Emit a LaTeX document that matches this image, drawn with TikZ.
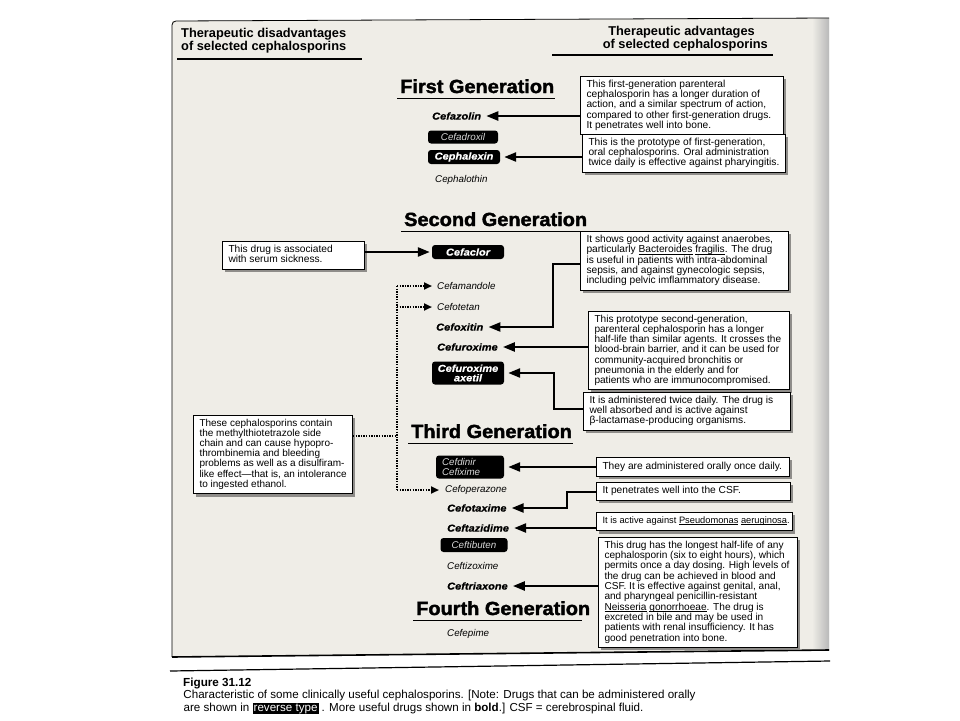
\documentclass[tikz,border=0pt]{standalone}
\usepackage{fontspec}
\setmainfont{Liberation Sans}
\newfontfamily\drugbf{Liberation Sans Bold Italic}[FakeStretch=1.1,FakeBold=0.6]
\newfontfamily\genfont{Liberation Sans Bold}[FakeBold=2,FakeStretch=1.05]
\usetikzlibrary{arrows.meta,shadows,calc}
\definecolor{paper}{HTML}{EFEDE7}
\definecolor{shadowgray}{HTML}{858380}
\newcommand{\boxtxt}[2]{\makebox[#1pt][l]{\begin{tabular}{@{}l@{}}#2\end{tabular}}}
\newcommand{\ulx}[1]{\leavevmode\setbox0\hbox{#1}\rlap{\rule[-1.4pt]{\wd0}{0.55pt}}\box0\relax}
\begin{document}
\begin{tikzpicture}[x=1pt,y=-1pt,
  hdr/.style={inner sep=0pt,font=\bfseries\fontsize{12.8}{13}\selectfont},
  gen/.style={anchor=base west,inner sep=0pt,font=\genfont\fontsize{19}{19}\selectfont},
  uline/.style={line width=1.6pt},
  drug/.style={anchor=west,inner sep=0pt,font=\drugbf\fontsize{10}{10}\selectfont},
  drugit/.style={anchor=west,inner sep=0pt,font=\itshape\fontsize{9.8}{10}\selectfont},
  rev/.style={fill=black,text=white,rounded corners=3pt,inner sep=0pt,align=center},
  revbf/.style={rev,font=\drugbf\fontsize{10}{9.5}\selectfont},
  revit/.style={rev,text=white!85!black,font=\itshape\fontsize{9.8}{9.5}\selectfont},
  info/.style={draw=black,line width=1pt,fill=white,anchor=north west,
    inner xsep=6pt,inner ysep=3.5pt,font=\fontsize{10.2}{9.6}\selectfont,
    drop shadow={shadow xshift=2.8pt,shadow yshift=-2.8pt,fill=shadowgray,opacity=0.9}},
  arr/.style={line width=2.4pt,line join=miter,-{Triangle[length=12pt,width=9pt]}},
  dotl/.style={line width=2.6pt,dash pattern=on 1.3pt off 1.3pt},
  darr/.style={dotl,-{Triangle[length=8pt,width=7pt]}}
]
\useasboundingbox (0,0) rectangle (960,720);
\fill[white] (0,0) rectangle (960,720);
% panel
\fill[paper] (172,21) -- (829,18) -- (829,650) -- (172,657) -- cycle;
\shade[left color=paper,right color=gray!55] (812,18) rectangle (829,650.5);
\draw[line width=0.8pt] (829,18) -- (176,21) to[out=180,in=90] (172,25) -- (172,657);
\draw[line width=1.6pt] (172,657) -- (829,650);

% headers
\node[hdr,anchor=base west] (hl1) at (181,37) {Therapeutic disadvantages};
\node[hdr,anchor=base west] (hl2) at (181,50) {of selected cephalosporins};
\draw[uline] (177,59) -- (362,59);
\node[hdr,anchor=base east] (hr1) at (755,35) {Therapeutic advantages};
\node[hdr,anchor=base east] (hr2) at (768,48) {of selected cephalosporins};
\draw[uline] (552,55) -- (773,55);

% generation titles
\node[gen] (g1) at (400,93) {First Generation};
\node[gen] (g2) at (404,226) {Second Generation};
\node[gen] (g3) at (411,438) {Third Generation};
\node[gen] (g4) at (416,615) {Fourth Generation};
\draw[uline] ([xshift=-3pt,yshift=-5.5pt]g1.base west) -- ([xshift=1pt,yshift=-5.5pt]g1.base east);
\draw[uline] ([xshift=-3pt,yshift=-5.5pt]g2.base west) -- ([xshift=1pt,yshift=-5.5pt]g2.base east);
\draw[uline] ([xshift=-3pt,yshift=-5.5pt]g3.base west) -- ([xshift=1pt,yshift=-5.5pt]g3.base east);
\draw[uline] ([xshift=-3pt,yshift=-5.5pt]g4.base west) -- ([xshift=-8pt,yshift=-5.5pt]g4.base east);

% drugs
\node[drug] (cefazolin) at (432,116) {Cefazolin};
\node[revit,minimum width=70pt,minimum height=13pt] (cefadroxil) at (463,137) {Cefadroxil};
\node[revbf,minimum width=72pt,minimum height=14pt] (cephalexin) at (464,157) {Cephalexin};
\node[drugit] (cephalothin) at (435,180) {Cephalothin};
\node[revbf,minimum width=72pt,minimum height=14pt] (cefaclor) at (468,252) {Cefaclor};
\node[drugit] (cefamandole) at (437,286) {Cefamandole};
\node[drugit] (cefotetan) at (437,307) {Cefotetan};
\node[drug] (cefoxitin) at (436,327) {Cefoxitin};
\node[drug] (cefuroxime) at (437,347) {Cefuroxime};
\node[revbf,minimum width=72pt,minimum height=23pt] (axetil) at (468,373) {Cefuroxime\\axetil};
\node[revit,align=left,minimum width=68pt,minimum height=23pt,text width=56pt] (cefdinir) at (470,467) {Cefdinir\\Cefixime};
\node[drugit] (cefoperazone) at (445,490) {Cefoperazone};
\node[drug] (cefotaxime) at (447,508) {Cefotaxime};
\node[drug] (ceftazidime) at (447,528) {Ceftazidime};
\node[revit,minimum width=67pt,minimum height=14pt] (ceftibuten) at (474,545) {Ceftibuten};
\node[drugit] (ceftizoxime) at (447,566) {Ceftizoxime};
\node[drug] (ceftriaxone) at (447,586) {Ceftriaxone};
\node[drugit] (cefepime) at (447,634) {Cefepime};

% info boxes
\node[info] (b1) at (580,76) {\boxtxt{191}{This first-generation parenteral\\cephalosporin has a longer duration of\\action, and a similar spectrum of action,\\compared to other first-generation drugs.\\It penetrates well into bone.}};
\node[info] (b2) at (582,134) {\boxtxt{191}{This is the prototype of first-generation,\\oral cephalosporins. Oral administration\\twice daily is effective against pharyingitis.}};
\node[info] (sick) at (222,241) {\boxtxt{130}{This drug is associated\\with serum sickness.}};
\node[info,font=\fontsize{10.2}{10}\selectfont] (anaer) at (580,231) {\boxtxt{196}{It shows good activity against anaerobes,\\particularly \ulx{Bacteroides} \ulx{fragilis}. The drug\\is useful in patients with intra-abdominal\\sepsis, and against gynecologic sepsis,\\including pelvic imflammatory disease.}};
\node[info,font=\fontsize{10.1}{9.6}\selectfont] (proto) at (588,311) {\boxtxt{189}{This prototype second-generation,\\parenteral cephalosporin has a longer\\half-life than similar agents. It crosses the\\blood-brain barrier, and it can be used for\\community-acquired bronchitis or\\pneumonia in the elderly and for\\patients who are immunocompromised.}};
\node[info] (twice) at (583,392) {\boxtxt{195}{It is administered twice daily. The drug is\\well absorbed and is active against\\β-lactamase-producing organisms.}};
\node[info,font=\fontsize{10}{9.8}\selectfont] (meth) at (193,415) {\boxtxt{147}{These cephalosporins contain\\the methylthiotetrazole side\\chain and can cause hypopro-\\thrombinemia and bleeding\\problems as well as a disulfiram-\\like effect—that is, an intolerance\\to ingested ethanol.}};
\node[info,inner ysep=4.3pt] (orally) at (596,457) {\boxtxt{181}{They are administered orally once daily.}};
\node[info,inner ysep=3.8pt] (csf) at (596,482) {\boxtxt{182}{It penetrates well into the CSF.}};
\node[info,inner ysep=4.3pt,font=\fontsize{9.3}{9.6}\selectfont] (pseudo) at (596,512) {\boxtxt{184}{It is active against \ulx{Pseudomonas} \ulx{aeruginosa}.}};
\node[info,font=\fontsize{10.1}{10}\selectfont] (big) at (598,537) {\boxtxt{187}{This drug has the longest half-life of any\\cephalosporin (six to eight hours), which\\permits once a day dosing. High levels of\\the drug can be achieved in blood and\\CSF. It is effective against genital, anal,\\and pharyngeal penicillin-resistant\\\ulx{Neisseria} \ulx{gonorrhoeae}. The drug is\\excreted in bile and may be used in\\patients with renal insufficiency. It has\\good penetration into bone.}};

% solid connectors
\draw[arr] (b1.west |- cefazolin) -- ([xshift=5pt]cefazolin.east);
\draw[arr] (b2.west |- cephalexin) -- ([xshift=4pt]cephalexin.east);
\draw[arr] (sick.east |- cefaclor) -- ([xshift=-2pt]cefaclor.west);
\coordinate (k1) at (553,264);
\draw[arr] (anaer.west |- k1) -- (k1) |- ([xshift=5pt]cefoxitin.east);
\draw[arr] (proto.west |- cefuroxime) -- ([xshift=5pt]cefuroxime.east);
\coordinate (k2) at (554,409);
\draw[arr] (twice.west |- k2) -- (k2) |- ([xshift=4pt]axetil.east);
\draw[arr] (orally.west |- cefdinir) -- ([xshift=4pt]cefdinir.east);
\coordinate (k3) at (567,492);
\draw[arr] (csf.west |- k3) -- (k3) |- ([xshift=5pt]cefotaxime.east);
\draw[arr] (pseudo.west |- ceftazidime) -- ([xshift=5pt]ceftazidime.east);
\draw[arr] (big.west |- ceftriaxone) -- ([xshift=5pt]ceftriaxone.east);

% dotted connectors
\coordinate (d1) at (397,286);
\coordinate (d3) at (397,436);
\draw[dotl] (d1) -- (d1 |- cefoperazone);
\draw[darr] (d1) -- ([xshift=-5pt]cefamandole.west);
\draw[darr] (d1 |- cefotetan) -- ([xshift=-5pt]cefotetan.west);
\draw[darr] (d1 |- cefoperazone) -- ([xshift=-6pt]cefoperazone.west);
\draw[dotl] (meth.east |- d3) -- (d3);

% caption
\draw[line width=1.2pt] (170,671) -- (830,661);
\begin{scope}[rotate around={1.1:(183,686)}]
\node[anchor=base west,inner sep=0pt,font=\bfseries\fontsize{11.7}{11}\selectfont] (figlab) at (183,686) {Figure 31.12};
\node[anchor=base west,inner sep=0pt,font=\fontsize{11.6}{11}\selectfont] (cap1) at (183,698) {Characteristic of some clinically useful cephalosporins. [Note: Drugs that can be administered orally};
\node[anchor=base west,inner sep=0pt,font=\fontsize{11.6}{11}\selectfont] (cap2) at (183,711) {are shown in {\setlength{\fboxsep}{1pt}\colorbox{black}{\color{white}reverse type}} . More useful drugs shown in \textbf{bold}.] CSF = cerebrospinal fluid.};
\end{scope}
\end{tikzpicture}
\end{document}
